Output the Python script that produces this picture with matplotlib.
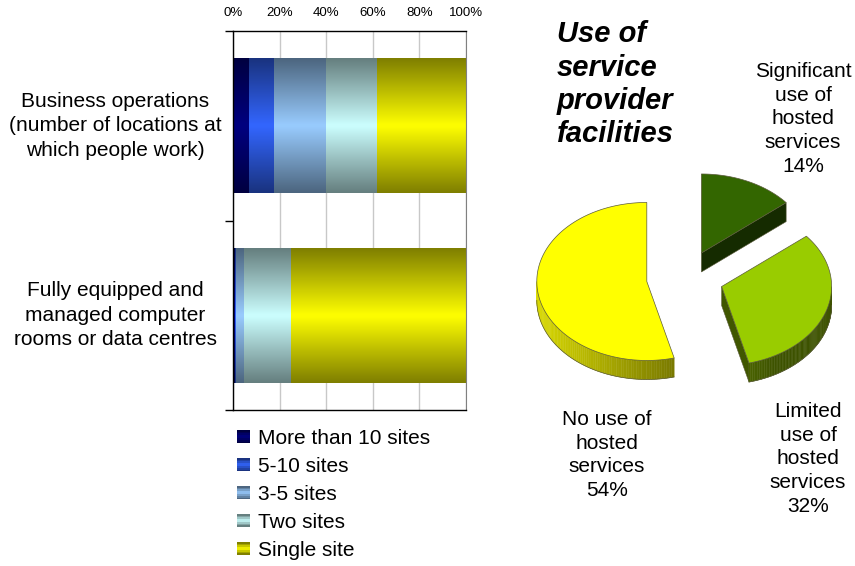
import numpy as np
import matplotlib
matplotlib.use("Agg")
import matplotlib.pyplot as plt
import matplotlib.transforms as mtransforms
from matplotlib.patches import Polygon, Rectangle
from matplotlib.legend_handler import HandlerBase
from matplotlib.colors import to_rgb

plt.rcParams["font.family"] = ["Liberation Sans", "DejaVu Sans"]

# ---- stacked bar data (% of respondents) ----
CATEGORIES = [
    "Business operations\n(number of locations at\nwhich people work)",
    "Fully equipped and\nmanaged computer\nrooms or data centres",
]
SERIES = ["More than 10 sites", "5-10 sites", "3-5 sites", "Two sites", "Single site"]
SERIES_COLORS = ["#000080", "#3366FF", "#99CCFF", "#CCFFFF", "#FFFF00"]
MORE_THAN_10 = [6.9, 0.7]
FIVE_TO_10 = [10.8, 0.4]
THREE_TO_5 = [22.3, 3.6]
TWO_SITES = [22.0, 20.1]
SINGLE_SITE = [38.0, 75.2]
X_TICKS = [0, 20, 40, 60, 80, 100]

# ---- pie data ----
PIE_TITLE = "Use of\nservice\nprovider\nfacilities"
PIE_LABELS = [
    "Significant\nuse of\nhosted\nservices",
    "Limited\nuse of\nhosted\nservices",
    "No use of\nhosted\nservices",
]
PIE_VALUES = [14, 32, 54]
PIE_COLORS = ["#336600", "#99CC00", "#FFFF00"]

# pie geometry in figure pixels (y grows downward)
PIE_CX, PIE_CY = 685, 278
PIE_RX, PIE_RY = 110, 79
PIE_DEPTH = 19
PIE_EXPLODE = 0.35


def shade(color, k):
    return tuple(np.clip(np.array(to_rgb(color)) * k, 0, 1))


def bar_profile(n):
    t = np.linspace(0, 1, n)
    return 1 - 0.5 * np.abs(2 * t - 1)


def gradient_fill(ax, patch, color):
    x0, y0 = patch.get_x(), patch.get_y()
    w, h = patch.get_width(), patch.get_height()
    k = bar_profile(64)
    img = np.array(to_rgb(color))[None, None, :] * k[:, None, None]
    ax.imshow(img, extent=(x0, x0 + w, y0, y0 + h), aspect="auto",
              origin="lower", interpolation="bilinear", zorder=2)


class GradientHandler(HandlerBase):
    def create_artists(self, legend, orig_handle, xdescent, ydescent,
                       width, height, fontsize, trans):
        color = orig_handle.get_facecolor()
        n = 8
        k = bar_profile(n)
        out = []
        for i in range(n):
            r = Rectangle((-xdescent, -ydescent + height * i / n), width, height / n,
                          facecolor=shade(color[:3], k[i]), edgecolor="none",
                          transform=trans)
            out.append(r)
        return out


fig = plt.figure(figsize=(8.55, 5.66), dpi=100)

# ---------------- stacked horizontal bars ----------------
ax = fig.add_axes([233 / 855, 1 - 410 / 566, 233 / 855, 379 / 566])
y = np.arange(len(CATEGORIES))
left = np.zeros(len(CATEGORIES))
series_values = [MORE_THAN_10, FIVE_TO_10, THREE_TO_5, TWO_SITES, SINGLE_SITE]
for vals, col in zip(series_values, SERIES_COLORS):
    bars = ax.barh(y, vals, left=left, height=0.71, color="none", zorder=2)
    for b in bars:
        gradient_fill(ax, b, col)
    left += np.array(vals)

ax.set_xlim(0, 100)
ax.set_ylim(1.5, -0.5)
ax.xaxis.tick_top()
ax.set_xticks(X_TICKS)
ax.set_xticklabels([f"{v}%" for v in X_TICKS], fontsize=9.5)
ax.tick_params(axis="x", length=0, pad=9)
ax.set_yticks([-0.5, 0.5, 1.5])
ax.set_yticklabels([])
ax.tick_params(axis="y", length=6, width=1, direction="out")
ax.grid(axis="x", color="#C8C8C8", linewidth=1)
ax.set_axisbelow(True)
ax.spines["right"].set_color("#808080")
for s in ["left", "top", "bottom"]:
    ax.spines[s].set_linewidth(1)

trans = mtransforms.blended_transform_factory(ax.transAxes, ax.transData)
for yi, cat in zip(y, CATEGORIES):
    ax.text(-0.506, yi, cat, transform=trans, ha="center", va="center",
            fontsize=15, multialignment="center", linespacing=1.36)

handles = [Rectangle((0, 0), 1, 1, facecolor=c) for c in SERIES_COLORS]
fig.legend(handles, SERIES, handler_map={Rectangle: GradientHandler()},
           loc="upper left", bbox_to_anchor=(237 / 855, 1 - 429 / 566),
           frameon=False, fontsize=15, handlelength=0.62, handleheight=0.6,
           handletextpad=0.4, labelspacing=0.43, borderpad=0, borderaxespad=0)

# ---------------- exploded 3D pie ----------------
pax = fig.add_axes([500 / 855, 1 - 400 / 566, 355 / 855, 250 / 566])
pax.set_xlim(500, 855)
pax.set_ylim(400, 150)
pax.axis("off")


def ell(cx, cy, phi):
    return cx + PIE_RX * np.sin(phi), cy - PIE_RY * np.cos(phi)


slices = []
start = 0.0
total = float(sum(PIE_VALUES))
for val, col in zip(PIE_VALUES, PIE_COLORS):
    p1 = start / total * 2 * np.pi
    p2 = (start + val) / total * 2 * np.pi
    start += val
    mid = (p1 + p2) / 2
    cx = PIE_CX + PIE_EXPLODE * PIE_RX * np.sin(mid)
    cy = PIE_CY - PIE_EXPLODE * PIE_RY * np.cos(mid)
    slices.append((cy, cx, p1, p2, col))

edge = "#5A5A3A"
for order, (cy, cx, p1, p2, col) in enumerate(sorted(slices)):
    z = 2 + order * 3
    # radial cut faces
    for phi, inside in [(p1, p1 + 0.05), (p2, p2 - 0.05)]:
        px, py = ell(cx, cy, phi)
        qx, qy = ell(cx, cy, inside)
        vx, vy = px - cx, py - cy
        c_in = vx * (qy - cy) - vy * (qx - cx)
        c_dn = vx * 1.0
        if c_in * c_dn < 0:
            face = [(cx, cy), (px, py), (px, py + PIE_DEPTH), (cx, cy + PIE_DEPTH)]
            pax.add_patch(Polygon(face, closed=True, facecolor=shade(col, 0.42),
                                  edgecolor=edge, linewidth=0.4, zorder=z))
    # front outer wall
    a = max(p1, np.pi / 2)
    b = min(p2, 3 * np.pi / 2)
    if b > a:
        phis = np.linspace(a, b, 80)
        for f0, f1 in zip(phis[:-1], phis[1:]):
            x0, y0 = ell(cx, cy, f0)
            x1, y1 = ell(cx, cy, f1)
            k = max(0.4, 0.55 + 0.3 * (-np.sin((f0 + f1) / 2)))
            quad = [(x0, y0), (x1, y1), (x1, y1 + PIE_DEPTH), (x0, y0 + PIE_DEPTH)]
            pax.add_patch(Polygon(quad, closed=True, facecolor=shade(col, k),
                                  edgecolor=shade(col, k), linewidth=0.3, zorder=z + 1))
        bx, by = ell(cx, cy, phis)
        pax.plot(bx, by + PIE_DEPTH, color=edge, linewidth=0.5, zorder=z + 1)
    # top face
    phis = np.linspace(p1, p2, 120)
    tx, ty = ell(cx, cy, phis)
    pts = [(cx, cy)] + list(zip(tx, ty))
    pax.add_patch(Polygon(pts, closed=True, facecolor=col, edgecolor=edge,
                          linewidth=0.5, zorder=z + 2))

fig.text(557 / 855, 1 - 20 / 566, PIE_TITLE, ha="left", va="top", fontsize=21,
         fontweight="bold", style="italic", linespacing=1.25)

label_pos = [(803, 119), (808, 459), (607, 455)]
for (lx, ly), lab, val in zip(label_pos, PIE_LABELS, PIE_VALUES):
    fig.text(lx / 855, 1 - ly / 566, f"{lab}\n{val}%", ha="center", va="center",
             fontsize=15, multialignment="center", linespacing=1.32)

fig.savefig("out.png", dpi=100)
